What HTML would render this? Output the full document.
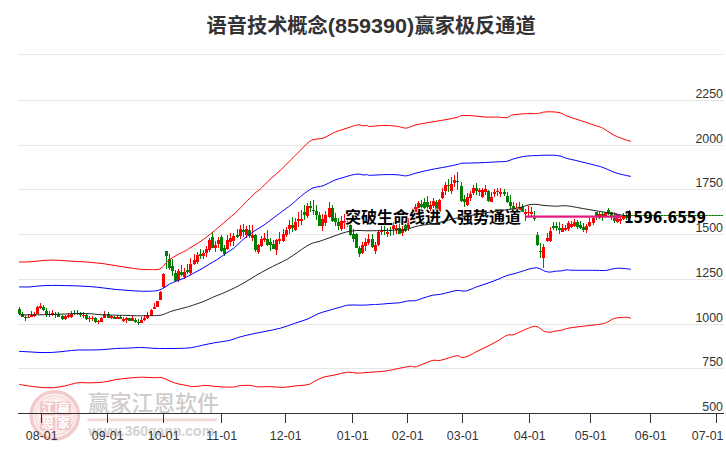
<!DOCTYPE html>
<html lang="zh"><head><meta charset="utf-8"><title>语音技术概念(859390)赢家极反通道</title>
<style>html,body{margin:0;padding:0;background:#fff}body{width:726px;height:450px;overflow:hidden}svg{display:block}.lab{font-family:"Liberation Sans","Noto Sans CJK SC",sans-serif;font-size:12.4px;fill:#333}.ttl{font-family:"Liberation Sans","Noto Sans CJK SC",sans-serif;font-size:20.2px;font-weight:bold;fill:#333}.ann{font-family:"Liberation Sans","Noto Sans CJK SC",sans-serif;font-size:16px;font-weight:bold;fill:#000;stroke:#fff;stroke-width:1.6px;paint-order:stroke;stroke-linejoin:round}.prc{font-family:"DejaVu Sans Condensed","DejaVu Sans","Liberation Sans",sans-serif;font-size:15.6px;font-weight:bold;fill:#000}.wm1{font-family:"Liberation Sans","Noto Sans CJK SC",sans-serif;font-size:21.8px;font-weight:500;fill:#d0cccc}.wm2{font-family:"Liberation Sans",sans-serif;font-size:14px;font-weight:bold;fill:#d2d2d2}.seal{font-family:"Liberation Sans","Noto Sans CJK SC",sans-serif;font-size:12.5px;font-weight:bold;fill:#fff}</style></head><body>
<svg width="726" height="450" viewBox="0 0 726 450">
<rect width="726" height="450" fill="#fff"/>
<g id="watermark">
<circle cx="54.8" cy="415.3" r="23.6" fill="#fdf6f6" stroke="#f2cbcb" stroke-width="3.6"/>
<circle cx="54.8" cy="415.3" r="19.6" fill="none" stroke="#f6dada" stroke-width="1.6"/>
<circle cx="54.8" cy="415.3" r="17" fill="none" stroke="#faeaea" stroke-width="2.5"/>
<rect x="40.2" y="401.6" width="15.2" height="13.8" fill="#f1c6c6"/>
<rect x="56.8" y="401.6" width="14" height="13.8" fill="#f1c6c6"/>
<rect x="40.2" y="417" width="15.2" height="13.2" fill="#f1c6c6"/>
<rect x="56.8" y="417" width="14" height="13.2" fill="#f1c6c6"/>
<g class="seal" text-anchor="middle"><text x="47.8" y="413.3">江</text><text x="63.8" y="413.3">赢</text>
<text x="47.8" y="428.2">恩</text><text x="63.8" y="428.2">家</text></g>
<text class="wm1" x="88" y="410.5">赢家江恩软件</text>
<rect x="87.5" y="418.4" width="129.5" height="3" fill="#f1dada"/>
<text class="wm2" x="88.6" y="435.7">www.360gann.com</text>
</g>
<g id="grid" fill="#e6e6e6">
<rect x="18" y="54" width="706" height="1"/>
<rect x="18" y="100" width="706" height="1"/>
<rect x="18" y="145" width="706" height="1"/>
<rect x="18" y="189" width="706" height="1"/>
<rect x="18" y="234" width="706" height="1"/>
<rect x="18" y="279" width="706" height="1"/>
<rect x="18" y="324" width="706" height="1"/>
<rect x="18" y="368" width="706" height="1"/>
</g>
<g id="candles">
<path d="M19.5,307.0V315.0" stroke="#008000" stroke-width="1"/><rect x="18.0" y="309.0" width="3" height="5.0" fill="#008000"/>
<path d="M22.5,312.0V317.0" stroke="#008000" stroke-width="1"/><rect x="21.0" y="314.0" width="3" height="3.0" fill="#008000"/>
<path d="M25.5,315.0V321.0" stroke="#008000" stroke-width="1"/><rect x="24.0" y="317.0" width="3" height="1.0" fill="#008000"/>
<path d="M28.5,314.0V318.0" stroke="#ff0000" stroke-width="1"/><rect x="27.0" y="317.0" width="3" height="1.0" fill="#ff0000"/>
<path d="M31.5,311.0V317.0" stroke="#ff0000" stroke-width="1"/><rect x="30.0" y="315.0" width="3" height="2.0" fill="#ff0000"/>
<path d="M34.5,312.0V317.0" stroke="#ff0000" stroke-width="1"/><rect x="33.0" y="314.0" width="3" height="2.0" fill="#ff0000"/>
<path d="M37.5,306.0V314.0" stroke="#ff0000" stroke-width="1"/><rect x="36.0" y="307.0" width="3" height="7.0" fill="#ff0000"/>
<path d="M40.5,303.0V309.0" stroke="#ff0000" stroke-width="1"/><rect x="39.0" y="306.0" width="3" height="2.0" fill="#ff0000"/>
<path d="M43.5,305.0V311.0" stroke="#008000" stroke-width="1"/><rect x="42.0" y="307.0" width="3" height="3.0" fill="#008000"/>
<path d="M46.5,308.0V317.0" stroke="#008000" stroke-width="1"/><rect x="45.0" y="311.0" width="3" height="4.0" fill="#008000"/>
<path d="M49.5,311.0V317.0" stroke="#008000" stroke-width="1"/><rect x="48.0" y="314.0" width="3" height="1.0" fill="#008000"/>
<path d="M52.5,310.0V316.0" stroke="#ff0000" stroke-width="1"/><rect x="51.0" y="313.0" width="3" height="2.0" fill="#ff0000"/>
<path d="M55.5,312.0V318.0" stroke="#008000" stroke-width="1"/><rect x="54.0" y="314.0" width="3" height="1.0" fill="#008000"/>
<path d="M58.5,312.0V317.0" stroke="#008000" stroke-width="1"/><rect x="57.0" y="314.0" width="3" height="3.0" fill="#008000"/>
<path d="M62.5,315.0V320.0" stroke="#008000" stroke-width="1"/><rect x="61.0" y="316.0" width="3" height="3.0" fill="#008000"/>
<path d="M65.5,315.0V320.0" stroke="#ff0000" stroke-width="1"/><rect x="64.0" y="316.0" width="3" height="3.0" fill="#ff0000"/>
<path d="M68.5,313.0V318.0" stroke="#ff0000" stroke-width="1"/><rect x="67.0" y="315.0" width="3" height="2.0" fill="#ff0000"/>
<path d="M71.5,311.0V318.0" stroke="#ff0000" stroke-width="1"/><rect x="70.0" y="314.0" width="3" height="3.0" fill="#ff0000"/>
<path d="M74.5,310.0V315.0" stroke="#008000" stroke-width="1"/><rect x="73.0" y="313.0" width="3" height="1.0" fill="#008000"/>
<path d="M77.5,310.0V315.0" stroke="#008000" stroke-width="1"/><rect x="76.0" y="313.0" width="3" height="1.0" fill="#008000"/>
<path d="M80.5,312.0V317.0" stroke="#008000" stroke-width="1"/><rect x="79.0" y="313.0" width="3" height="2.0" fill="#008000"/>
<path d="M83.5,312.0V318.0" stroke="#ff0000" stroke-width="1"/><rect x="82.0" y="315.0" width="3" height="1.0" fill="#ff0000"/>
<path d="M86.5,314.0V320.0" stroke="#008000" stroke-width="1"/><rect x="85.0" y="315.0" width="3" height="4.0" fill="#008000"/>
<path d="M89.5,316.0V322.0" stroke="#ff0000" stroke-width="1"/><rect x="88.0" y="318.0" width="3" height="1.0" fill="#ff0000"/>
<path d="M92.5,316.0V321.0" stroke="#ff0000" stroke-width="1"/><rect x="91.0" y="318.0" width="3" height="1.0" fill="#ff0000"/>
<path d="M95.5,317.0V323.0" stroke="#008000" stroke-width="1"/><rect x="94.0" y="318.0" width="3" height="4.0" fill="#008000"/>
<path d="M98.5,320.0V324.0" stroke="#ff0000" stroke-width="1"/><rect x="97.0" y="321.0" width="3" height="1.0" fill="#ff0000"/>
<path d="M101.5,317.0V322.0" stroke="#ff0000" stroke-width="1"/><rect x="100.0" y="318.0" width="3" height="4.0" fill="#ff0000"/>
<path d="M104.5,311.0V318.0" stroke="#ff0000" stroke-width="1"/><rect x="103.0" y="314.0" width="3" height="4.0" fill="#ff0000"/>
<path d="M108.5,312.0V318.0" stroke="#008000" stroke-width="1"/><rect x="107.0" y="314.0" width="3" height="4.0" fill="#008000"/>
<path d="M111.5,315.0V319.0" stroke="#ff0000" stroke-width="1"/><rect x="110.0" y="316.0" width="3" height="2.0" fill="#ff0000"/>
<path d="M114.5,316.0V319.0" stroke="#008000" stroke-width="1"/><rect x="113.0" y="317.0" width="3" height="2.0" fill="#008000"/>
<path d="M117.5,315.0V319.0" stroke="#ff0000" stroke-width="1"/><rect x="116.0" y="317.0" width="3" height="2.0" fill="#ff0000"/>
<path d="M120.5,315.0V319.0" stroke="#008000" stroke-width="1"/><rect x="119.0" y="317.0" width="3" height="2.0" fill="#008000"/>
<path d="M123.5,317.0V322.0" stroke="#ff0000" stroke-width="1"/><rect x="122.0" y="319.0" width="3" height="2.0" fill="#ff0000"/>
<path d="M126.5,317.0V323.0" stroke="#ff0000" stroke-width="1"/><rect x="125.0" y="318.0" width="3" height="2.0" fill="#ff0000"/>
<path d="M129.5,318.0V321.0" stroke="#008000" stroke-width="1"/><rect x="128.0" y="318.0" width="3" height="3.0" fill="#008000"/>
<path d="M132.5,316.0V321.0" stroke="#ff0000" stroke-width="1"/><rect x="131.0" y="318.0" width="3" height="3.0" fill="#ff0000"/>
<path d="M135.5,318.0V323.0" stroke="#008000" stroke-width="1"/><rect x="134.0" y="320.0" width="3" height="2.0" fill="#008000"/>
<path d="M138.5,319.0V325.0" stroke="#008000" stroke-width="1"/><rect x="137.0" y="322.0" width="3" height="1.0" fill="#008000"/>
<path d="M141.5,317.0V323.0" stroke="#ff0000" stroke-width="1"/><rect x="140.0" y="320.0" width="3" height="3.0" fill="#ff0000"/>
<path d="M144.5,315.0V321.0" stroke="#ff0000" stroke-width="1"/><rect x="143.0" y="318.0" width="3" height="2.0" fill="#ff0000"/>
<path d="M147.5,312.0V319.0" stroke="#ff0000" stroke-width="1"/><rect x="146.0" y="315.0" width="3" height="3.0" fill="#ff0000"/>
<path d="M151.5,309.0V316.0" stroke="#ff0000" stroke-width="1"/><rect x="150.0" y="310.0" width="3" height="5.0" fill="#ff0000"/>
<path d="M154.5,303.0V309.0" stroke="#ff0000" stroke-width="1"/><rect x="153.0" y="307.0" width="3" height="2.0" fill="#ff0000"/>
<path d="M157.5,301.0V307.0" stroke="#ff0000" stroke-width="1"/><rect x="156.0" y="301.0" width="3" height="6.0" fill="#ff0000"/>
<path d="M160.5,291.0V300.0" stroke="#ff0000" stroke-width="1"/><rect x="159.0" y="292.0" width="3" height="8.0" fill="#ff0000"/>
<path d="M163.5,273.0V288.0" stroke="#ff0000" stroke-width="1"/><rect x="162.0" y="274.0" width="3" height="13.0" fill="#ff0000"/>
<path d="M166.5,251.0V269.0" stroke="#008000" stroke-width="1"/><rect x="165.0" y="251.0" width="3" height="5.0" fill="#008000"/>
<path d="M169.5,254.0V270.0" stroke="#008000" stroke-width="1"/><rect x="168.0" y="259.0" width="3" height="9.0" fill="#008000"/>
<path d="M172.5,259.0V276.0" stroke="#008000" stroke-width="1"/><rect x="171.0" y="266.0" width="3" height="5.0" fill="#008000"/>
<path d="M175.5,270.0V282.0" stroke="#008000" stroke-width="1"/><rect x="174.0" y="273.0" width="3" height="8.0" fill="#008000"/>
<path d="M178.5,269.0V282.0" stroke="#ff0000" stroke-width="1"/><rect x="177.0" y="271.0" width="3" height="9.0" fill="#ff0000"/>
<path d="M181.5,265.0V276.0" stroke="#008000" stroke-width="1"/><rect x="180.0" y="272.0" width="3" height="3.0" fill="#008000"/>
<path d="M184.5,268.0V279.0" stroke="#ff0000" stroke-width="1"/><rect x="183.0" y="272.0" width="3" height="5.0" fill="#ff0000"/>
<path d="M187.5,264.0V274.0" stroke="#008000" stroke-width="1"/><rect x="186.0" y="270.0" width="3" height="2.0" fill="#008000"/>
<path d="M190.5,258.0V275.0" stroke="#ff0000" stroke-width="1"/><rect x="189.0" y="264.0" width="3" height="9.0" fill="#ff0000"/>
<path d="M194.5,254.0V265.0" stroke="#ff0000" stroke-width="1"/><rect x="193.0" y="260.0" width="3" height="4.0" fill="#ff0000"/>
<path d="M197.5,252.0V264.0" stroke="#ff0000" stroke-width="1"/><rect x="196.0" y="255.0" width="3" height="7.0" fill="#ff0000"/>
<path d="M200.5,249.0V259.0" stroke="#008000" stroke-width="1"/><rect x="199.0" y="254.0" width="3" height="2.0" fill="#008000"/>
<path d="M203.5,250.0V259.0" stroke="#ff0000" stroke-width="1"/><rect x="202.0" y="253.0" width="3" height="3.0" fill="#ff0000"/>
<path d="M206.5,246.0V257.0" stroke="#ff0000" stroke-width="1"/><rect x="205.0" y="249.0" width="3" height="4.0" fill="#ff0000"/>
<path d="M209.5,238.0V252.0" stroke="#ff0000" stroke-width="1"/><rect x="208.0" y="240.0" width="3" height="10.0" fill="#ff0000"/>
<path d="M212.5,232.0V248.0" stroke="#008000" stroke-width="1"/><rect x="211.0" y="237.0" width="3" height="11.0" fill="#008000"/>
<path d="M215.5,241.0V252.0" stroke="#ff0000" stroke-width="1"/><rect x="214.0" y="245.0" width="3" height="3.0" fill="#ff0000"/>
<path d="M218.5,237.0V248.0" stroke="#ff0000" stroke-width="1"/><rect x="217.0" y="240.0" width="3" height="4.0" fill="#ff0000"/>
<path d="M221.5,235.0V252.0" stroke="#008000" stroke-width="1"/><rect x="220.0" y="237.0" width="3" height="14.0" fill="#008000"/>
<path d="M224.5,245.0V256.0" stroke="#008000" stroke-width="1"/><rect x="223.0" y="248.0" width="3" height="6.0" fill="#008000"/>
<path d="M227.5,235.0V250.0" stroke="#ff0000" stroke-width="1"/><rect x="226.0" y="240.0" width="3" height="9.0" fill="#ff0000"/>
<path d="M230.5,233.0V246.0" stroke="#ff0000" stroke-width="1"/><rect x="229.0" y="238.0" width="3" height="4.0" fill="#ff0000"/>
<path d="M233.5,233.0V246.0" stroke="#ff0000" stroke-width="1"/><rect x="232.0" y="236.0" width="3" height="5.0" fill="#ff0000"/>
<path d="M237.5,229.0V238.0" stroke="#008000" stroke-width="1"/><rect x="236.0" y="235.0" width="3" height="2.0" fill="#008000"/>
<path d="M240.5,225.0V239.0" stroke="#ff0000" stroke-width="1"/><rect x="239.0" y="229.0" width="3" height="7.0" fill="#ff0000"/>
<path d="M243.5,224.0V237.0" stroke="#008000" stroke-width="1"/><rect x="242.0" y="230.0" width="3" height="2.0" fill="#008000"/>
<path d="M246.5,226.0V238.0" stroke="#ff0000" stroke-width="1"/><rect x="245.0" y="229.0" width="3" height="6.0" fill="#ff0000"/>
<path d="M249.5,225.0V238.0" stroke="#008000" stroke-width="1"/><rect x="248.0" y="230.0" width="3" height="6.0" fill="#008000"/>
<path d="M252.5,225.0V241.0" stroke="#ff0000" stroke-width="1"/><rect x="251.0" y="235.0" width="3" height="3.0" fill="#ff0000"/>
<path d="M255.5,234.0V252.0" stroke="#008000" stroke-width="1"/><rect x="254.0" y="235.0" width="3" height="15.0" fill="#008000"/>
<path d="M258.5,244.0V254.0" stroke="#ff0000" stroke-width="1"/><rect x="257.0" y="245.0" width="3" height="7.0" fill="#ff0000"/>
<path d="M261.5,236.0V247.0" stroke="#ff0000" stroke-width="1"/><rect x="260.0" y="239.0" width="3" height="7.0" fill="#ff0000"/>
<path d="M264.5,233.0V242.0" stroke="#ff0000" stroke-width="1"/><rect x="263.0" y="238.0" width="3" height="2.0" fill="#ff0000"/>
<path d="M267.5,230.0V246.0" stroke="#008000" stroke-width="1"/><rect x="266.0" y="239.0" width="3" height="6.0" fill="#008000"/>
<path d="M270.5,238.0V251.0" stroke="#008000" stroke-width="1"/><rect x="269.0" y="242.0" width="3" height="3.0" fill="#008000"/>
<path d="M273.5,240.0V249.0" stroke="#008000" stroke-width="1"/><rect x="272.0" y="244.0" width="3" height="5.0" fill="#008000"/>
<path d="M276.5,239.0V255.0" stroke="#ff0000" stroke-width="1"/><rect x="275.0" y="240.0" width="3" height="10.0" fill="#ff0000"/>
<path d="M279.5,232.0V244.0" stroke="#ff0000" stroke-width="1"/><rect x="278.0" y="239.0" width="3" height="2.0" fill="#ff0000"/>
<path d="M283.5,229.0V242.0" stroke="#ff0000" stroke-width="1"/><rect x="282.0" y="234.0" width="3" height="7.0" fill="#ff0000"/>
<path d="M286.5,227.0V237.0" stroke="#ff0000" stroke-width="1"/><rect x="285.0" y="230.0" width="3" height="5.0" fill="#ff0000"/>
<path d="M289.5,220.0V234.0" stroke="#ff0000" stroke-width="1"/><rect x="288.0" y="225.0" width="3" height="4.0" fill="#ff0000"/>
<path d="M292.5,217.0V232.0" stroke="#008000" stroke-width="1"/><rect x="291.0" y="225.0" width="3" height="3.0" fill="#008000"/>
<path d="M295.5,218.0V231.0" stroke="#ff0000" stroke-width="1"/><rect x="294.0" y="222.0" width="3" height="8.0" fill="#ff0000"/>
<path d="M298.5,212.0V227.0" stroke="#ff0000" stroke-width="1"/><rect x="297.0" y="219.0" width="3" height="2.0" fill="#ff0000"/>
<path d="M301.5,210.0V225.0" stroke="#ff0000" stroke-width="1"/><rect x="300.0" y="219.0" width="3" height="2.0" fill="#ff0000"/>
<path d="M304.5,205.0V220.0" stroke="#008000" stroke-width="1"/><rect x="303.0" y="212.0" width="3" height="3.0" fill="#008000"/>
<path d="M307.5,203.0V218.0" stroke="#ff0000" stroke-width="1"/><rect x="306.0" y="206.0" width="3" height="10.0" fill="#ff0000"/>
<path d="M310.5,201.0V212.0" stroke="#008000" stroke-width="1"/><rect x="309.0" y="206.0" width="3" height="2.0" fill="#008000"/>
<path d="M313.5,200.0V215.0" stroke="#008000" stroke-width="1"/><rect x="312.0" y="210.0" width="3" height="1.0" fill="#008000"/>
<path d="M316.5,205.0V220.0" stroke="#008000" stroke-width="1"/><rect x="315.0" y="211.0" width="3" height="4.0" fill="#008000"/>
<path d="M319.5,212.0V226.0" stroke="#008000" stroke-width="1"/><rect x="318.0" y="215.0" width="3" height="11.0" fill="#008000"/>
<path d="M322.5,214.0V231.0" stroke="#ff0000" stroke-width="1"/><rect x="321.0" y="219.0" width="3" height="7.0" fill="#ff0000"/>
<path d="M325.5,211.0V226.0" stroke="#ff0000" stroke-width="1"/><rect x="324.0" y="215.0" width="3" height="8.0" fill="#ff0000"/>
<path d="M329.5,202.0V218.0" stroke="#ff0000" stroke-width="1"/><rect x="328.0" y="208.0" width="3" height="9.0" fill="#ff0000"/>
<path d="M332.5,205.0V222.0" stroke="#008000" stroke-width="1"/><rect x="331.0" y="208.0" width="3" height="13.0" fill="#008000"/>
<path d="M335.5,213.0V226.0" stroke="#008000" stroke-width="1"/><rect x="334.0" y="218.0" width="3" height="4.0" fill="#008000"/>
<path d="M338.5,218.0V230.0" stroke="#008000" stroke-width="1"/><rect x="337.0" y="222.0" width="3" height="4.0" fill="#008000"/>
<path d="M341.5,216.0V231.0" stroke="#ff0000" stroke-width="1"/><rect x="340.0" y="221.0" width="3" height="8.0" fill="#ff0000"/>
<path d="M344.5,214.0V229.0" stroke="#ff0000" stroke-width="1"/><rect x="343.0" y="221.0" width="3" height="2.0" fill="#ff0000"/>
<path d="M347.5,218.0V227.0" stroke="#008000" stroke-width="1"/><rect x="346.0" y="222.0" width="3" height="3.0" fill="#008000"/>
<path d="M350.5,224.0V236.0" stroke="#008000" stroke-width="1"/><rect x="349.0" y="225.0" width="3" height="10.0" fill="#008000"/>
<path d="M353.5,229.0V242.0" stroke="#008000" stroke-width="1"/><rect x="352.0" y="234.0" width="3" height="5.0" fill="#008000"/>
<path d="M356.5,233.0V248.0" stroke="#008000" stroke-width="1"/><rect x="355.0" y="234.0" width="3" height="14.0" fill="#008000"/>
<path d="M359.5,246.0V257.0" stroke="#008000" stroke-width="1"/><rect x="358.0" y="248.0" width="3" height="6.0" fill="#008000"/>
<path d="M362.5,242.0V254.0" stroke="#ff0000" stroke-width="1"/><rect x="361.0" y="245.0" width="3" height="8.0" fill="#ff0000"/>
<path d="M365.5,238.0V251.0" stroke="#ff0000" stroke-width="1"/><rect x="364.0" y="242.0" width="3" height="4.0" fill="#ff0000"/>
<path d="M368.5,234.0V245.0" stroke="#ff0000" stroke-width="1"/><rect x="367.0" y="239.0" width="3" height="4.0" fill="#ff0000"/>
<path d="M372.5,234.0V248.0" stroke="#008000" stroke-width="1"/><rect x="371.0" y="239.0" width="3" height="8.0" fill="#008000"/>
<path d="M375.5,242.0V254.0" stroke="#ff0000" stroke-width="1"/><rect x="374.0" y="245.0" width="3" height="6.0" fill="#ff0000"/>
<path d="M378.5,231.0V246.0" stroke="#ff0000" stroke-width="1"/><rect x="377.0" y="232.0" width="3" height="13.0" fill="#ff0000"/>
<path d="M381.5,224.0V235.0" stroke="#ff0000" stroke-width="1"/><rect x="380.0" y="230.0" width="3" height="2.0" fill="#ff0000"/>
<path d="M384.5,224.0V235.0" stroke="#008000" stroke-width="1"/><rect x="383.0" y="230.0" width="3" height="1.0" fill="#008000"/>
<path d="M387.5,228.0V237.0" stroke="#ff0000" stroke-width="1"/><rect x="386.0" y="232.0" width="3" height="2.0" fill="#ff0000"/>
<path d="M390.5,227.0V236.0" stroke="#008000" stroke-width="1"/><rect x="389.0" y="230.0" width="3" height="1.0" fill="#008000"/>
<path d="M393.5,222.0V235.0" stroke="#ff0000" stroke-width="1"/><rect x="392.0" y="225.0" width="3" height="4.0" fill="#ff0000"/>
<path d="M396.5,223.0V234.0" stroke="#ff0000" stroke-width="1"/><rect x="395.0" y="228.0" width="3" height="2.0" fill="#ff0000"/>
<path d="M399.5,222.0V234.0" stroke="#008000" stroke-width="1"/><rect x="398.0" y="228.0" width="3" height="6.0" fill="#008000"/>
<path d="M402.5,226.0V236.0" stroke="#ff0000" stroke-width="1"/><rect x="401.0" y="229.0" width="3" height="4.0" fill="#ff0000"/>
<path d="M405.5,222.0V232.0" stroke="#008000" stroke-width="1"/><rect x="404.0" y="225.0" width="3" height="6.0" fill="#008000"/>
<path d="M408.5,218.0V231.0" stroke="#ff0000" stroke-width="1"/><rect x="407.0" y="222.0" width="3" height="6.0" fill="#ff0000"/>
<path d="M412.5,208.0V222.0" stroke="#ff0000" stroke-width="1"/><rect x="411.0" y="212.0" width="3" height="8.0" fill="#ff0000"/>
<path d="M415.5,204.0V217.0" stroke="#ff0000" stroke-width="1"/><rect x="414.0" y="207.0" width="3" height="8.0" fill="#ff0000"/>
<path d="M418.5,201.0V214.0" stroke="#ff0000" stroke-width="1"/><rect x="417.0" y="203.0" width="3" height="9.0" fill="#ff0000"/>
<path d="M421.5,200.0V211.0" stroke="#008000" stroke-width="1"/><rect x="420.0" y="204.0" width="3" height="3.0" fill="#008000"/>
<path d="M424.5,198.0V209.0" stroke="#008000" stroke-width="1"/><rect x="423.0" y="202.0" width="3" height="6.0" fill="#008000"/>
<path d="M427.5,196.0V209.0" stroke="#008000" stroke-width="1"/><rect x="426.0" y="202.0" width="3" height="5.0" fill="#008000"/>
<path d="M430.5,201.0V212.0" stroke="#ff0000" stroke-width="1"/><rect x="429.0" y="205.0" width="3" height="4.0" fill="#ff0000"/>
<path d="M433.5,198.0V208.0" stroke="#ff0000" stroke-width="1"/><rect x="432.0" y="201.0" width="3" height="5.0" fill="#ff0000"/>
<path d="M436.5,200.0V211.0" stroke="#008000" stroke-width="1"/><rect x="435.0" y="202.0" width="3" height="9.0" fill="#008000"/>
<path d="M439.5,199.0V212.0" stroke="#ff0000" stroke-width="1"/><rect x="438.0" y="200.0" width="3" height="12.0" fill="#ff0000"/>
<path d="M442.5,188.0V199.0" stroke="#ff0000" stroke-width="1"/><rect x="441.0" y="192.0" width="3" height="6.0" fill="#ff0000"/>
<path d="M445.5,182.0V195.0" stroke="#ff0000" stroke-width="1"/><rect x="444.0" y="185.0" width="3" height="6.0" fill="#ff0000"/>
<path d="M448.5,179.0V192.0" stroke="#008000" stroke-width="1"/><rect x="447.0" y="185.0" width="3" height="1.0" fill="#008000"/>
<path d="M451.5,177.0V194.0" stroke="#ff0000" stroke-width="1"/><rect x="450.0" y="184.0" width="3" height="7.0" fill="#ff0000"/>
<path d="M454.5,175.0V187.0" stroke="#ff0000" stroke-width="1"/><rect x="453.0" y="180.0" width="3" height="3.0" fill="#ff0000"/>
<path d="M457.5,172.0V190.0" stroke="#008000" stroke-width="1"/><rect x="456.0" y="181.0" width="3" height="1.0" fill="#008000"/>
<path d="M461.5,182.0V202.0" stroke="#008000" stroke-width="1"/><rect x="460.0" y="186.0" width="3" height="15.0" fill="#008000"/>
<path d="M464.5,195.0V207.0" stroke="#008000" stroke-width="1"/><rect x="463.0" y="199.0" width="3" height="3.0" fill="#008000"/>
<path d="M467.5,193.0V206.0" stroke="#ff0000" stroke-width="1"/><rect x="466.0" y="197.0" width="3" height="8.0" fill="#ff0000"/>
<path d="M470.5,191.0V201.0" stroke="#ff0000" stroke-width="1"/><rect x="469.0" y="194.0" width="3" height="4.0" fill="#ff0000"/>
<path d="M473.5,185.0V195.0" stroke="#ff0000" stroke-width="1"/><rect x="472.0" y="188.0" width="3" height="5.0" fill="#ff0000"/>
<path d="M476.5,183.0V195.0" stroke="#008000" stroke-width="1"/><rect x="475.0" y="188.0" width="3" height="3.0" fill="#008000"/>
<path d="M479.5,188.0V196.0" stroke="#ff0000" stroke-width="1"/><rect x="478.0" y="190.0" width="3" height="2.0" fill="#ff0000"/>
<path d="M482.5,188.0V198.0" stroke="#ff0000" stroke-width="1"/><rect x="481.0" y="190.0" width="3" height="7.0" fill="#ff0000"/>
<path d="M485.5,185.0V195.0" stroke="#ff0000" stroke-width="1"/><rect x="484.0" y="189.0" width="3" height="3.0" fill="#ff0000"/>
<path d="M488.5,190.0V202.0" stroke="#008000" stroke-width="1"/><rect x="487.0" y="191.0" width="3" height="10.0" fill="#008000"/>
<path d="M491.5,192.0V202.0" stroke="#ff0000" stroke-width="1"/><rect x="490.0" y="197.0" width="3" height="5.0" fill="#ff0000"/>
<path d="M494.5,189.0V197.0" stroke="#ff0000" stroke-width="1"/><rect x="493.0" y="192.0" width="3" height="2.0" fill="#ff0000"/>
<path d="M497.5,188.0V196.0" stroke="#ff0000" stroke-width="1"/><rect x="496.0" y="191.0" width="3" height="1.0" fill="#ff0000"/>
<path d="M500.5,188.0V197.0" stroke="#ff0000" stroke-width="1"/><rect x="499.0" y="192.0" width="3" height="2.0" fill="#ff0000"/>
<path d="M504.5,189.0V196.0" stroke="#008000" stroke-width="1"/><rect x="503.0" y="192.0" width="3" height="2.0" fill="#008000"/>
<path d="M507.5,192.0V203.0" stroke="#008000" stroke-width="1"/><rect x="506.0" y="196.0" width="3" height="6.0" fill="#008000"/>
<path d="M510.5,195.0V211.0" stroke="#008000" stroke-width="1"/><rect x="509.0" y="202.0" width="3" height="4.0" fill="#008000"/>
<path d="M513.5,202.0V212.0" stroke="#008000" stroke-width="1"/><rect x="512.0" y="206.0" width="3" height="6.0" fill="#008000"/>
<path d="M516.5,203.0V212.0" stroke="#ff0000" stroke-width="1"/><rect x="515.0" y="208.0" width="3" height="4.0" fill="#ff0000"/>
<path d="M519.5,202.0V212.0" stroke="#ff0000" stroke-width="1"/><rect x="518.0" y="207.0" width="3" height="4.0" fill="#ff0000"/>
<path d="M522.5,204.0V212.0" stroke="#008000" stroke-width="1"/><rect x="521.0" y="207.0" width="3" height="5.0" fill="#008000"/>
<path d="M525.5,209.0V221.0" stroke="#ff0000" stroke-width="1"/><rect x="524.0" y="212.0" width="3" height="2.0" fill="#ff0000"/>
<path d="M528.5,206.0V216.0" stroke="#ff0000" stroke-width="1"/><rect x="527.0" y="212.0" width="3" height="1.0" fill="#ff0000"/>
<path d="M531.5,207.0V216.0" stroke="#ff0000" stroke-width="1"/><rect x="530.0" y="212.0" width="3" height="2.0" fill="#ff0000"/>
<path d="M534.5,211.0V221.0" stroke="#008000" stroke-width="1"/><rect x="533.0" y="218.0" width="3" height="1.0" fill="#008000"/>
<path d="M537.5,232.0V246.0" stroke="#008000" stroke-width="1"/><rect x="536.0" y="235.0" width="3" height="10.0" fill="#008000"/>
<path d="M540.5,243.0V258.0" stroke="#008000" stroke-width="1"/><rect x="539.0" y="251.0" width="3" height="1.0" fill="#008000"/>
<path d="M543.5,244.0V268.0" stroke="#ff0000" stroke-width="1"/><rect x="542.0" y="247.0" width="3" height="11.0" fill="#ff0000"/>
<path d="M547.5,233.0V242.0" stroke="#ff0000" stroke-width="1"/><rect x="546.0" y="238.0" width="3" height="3.0" fill="#ff0000"/>
<path d="M550.5,227.0V242.0" stroke="#ff0000" stroke-width="1"/><rect x="549.0" y="231.0" width="3" height="10.0" fill="#ff0000"/>
<path d="M553.5,222.0V230.0" stroke="#008000" stroke-width="1"/><rect x="552.0" y="226.0" width="3" height="2.0" fill="#008000"/>
<path d="M556.5,222.0V231.0" stroke="#008000" stroke-width="1"/><rect x="555.0" y="226.0" width="3" height="2.0" fill="#008000"/>
<path d="M559.5,222.0V234.0" stroke="#008000" stroke-width="1"/><rect x="558.0" y="228.0" width="3" height="2.0" fill="#008000"/>
<path d="M562.5,224.0V232.0" stroke="#ff0000" stroke-width="1"/><rect x="561.0" y="228.0" width="3" height="4.0" fill="#ff0000"/>
<path d="M565.5,225.0V231.0" stroke="#ff0000" stroke-width="1"/><rect x="564.0" y="228.0" width="3" height="2.0" fill="#ff0000"/>
<path d="M568.5,221.0V231.0" stroke="#ff0000" stroke-width="1"/><rect x="567.0" y="223.0" width="3" height="6.0" fill="#ff0000"/>
<path d="M571.5,221.0V228.0" stroke="#ff0000" stroke-width="1"/><rect x="570.0" y="224.0" width="3" height="3.0" fill="#ff0000"/>
<path d="M574.5,219.0V227.0" stroke="#ff0000" stroke-width="1"/><rect x="573.0" y="222.0" width="3" height="4.0" fill="#ff0000"/>
<path d="M577.5,220.0V229.0" stroke="#008000" stroke-width="1"/><rect x="576.0" y="222.0" width="3" height="5.0" fill="#008000"/>
<path d="M580.5,221.0V229.0" stroke="#008000" stroke-width="1"/><rect x="579.0" y="225.0" width="3" height="3.0" fill="#008000"/>
<path d="M583.5,223.0V232.0" stroke="#008000" stroke-width="1"/><rect x="582.0" y="227.0" width="3" height="3.0" fill="#008000"/>
<path d="M586.5,224.0V233.0" stroke="#ff0000" stroke-width="1"/><rect x="585.0" y="226.0" width="3" height="4.0" fill="#ff0000"/>
<path d="M589.5,218.0V227.0" stroke="#ff0000" stroke-width="1"/><rect x="588.0" y="222.0" width="3" height="4.0" fill="#ff0000"/>
<path d="M593.5,217.0V225.0" stroke="#ff0000" stroke-width="1"/><rect x="592.0" y="218.0" width="3" height="5.0" fill="#ff0000"/>
<path d="M596.5,212.0V220.0" stroke="#008000" stroke-width="1"/><rect x="595.0" y="212.0" width="3" height="5.0" fill="#008000"/>
<path d="M599.5,212.0V219.0" stroke="#ff0000" stroke-width="1"/><rect x="598.0" y="214.0" width="3" height="4.0" fill="#ff0000"/>
<path d="M602.5,212.0V221.0" stroke="#008000" stroke-width="1"/><rect x="601.0" y="214.0" width="3" height="2.0" fill="#008000"/>
<path d="M605.5,212.0V217.0" stroke="#ff0000" stroke-width="1"/><rect x="604.0" y="213.0" width="3" height="3.0" fill="#ff0000"/>
<path d="M608.5,208.0V215.0" stroke="#008000" stroke-width="1"/><rect x="607.0" y="210.0" width="3" height="4.0" fill="#008000"/>
<path d="M611.5,212.0V220.0" stroke="#008000" stroke-width="1"/><rect x="610.0" y="212.0" width="3" height="4.0" fill="#008000"/>
<path d="M614.5,214.0V223.0" stroke="#008000" stroke-width="1"/><rect x="613.0" y="218.0" width="3" height="3.0" fill="#008000"/>
<path d="M617.5,217.0V223.0" stroke="#ff0000" stroke-width="1"/><rect x="616.0" y="219.0" width="3" height="3.0" fill="#ff0000"/>
<path d="M620.5,217.0V224.0" stroke="#ff0000" stroke-width="1"/><rect x="619.0" y="219.0" width="3" height="2.0" fill="#ff0000"/>
<path d="M623.5,213.0V220.0" stroke="#ff0000" stroke-width="1"/><rect x="622.0" y="216.0" width="3" height="3.0" fill="#ff0000"/>
<path d="M626.5,214.0V220.0" stroke="#008000" stroke-width="1"/><rect x="625.0" y="215.0" width="3" height="3.0" fill="#008000"/>
<path d="M629.5,210.0V220.0" stroke="#ff0000" stroke-width="1"/><rect x="628.0" y="212.0" width="3" height="6.0" fill="#ff0000"/>
</g>
<g id="annot">
<rect x="526" y="215.5" width="92" height="2.2" fill="#e6157d"/>
<path d="M622.6,216.4 L613.2,211.8 L616,216.4 L613.2,221 Z" fill="#e6157d"/>
<text class="ann" x="345" y="222.5">突破生命线进入强势通道</text>
<path d="M622,215.5H723" stroke="#008000" stroke-width="1" opacity="0.65"/><path d="M622,215.5H723" stroke="#008000" stroke-width="1" stroke-dasharray="2,1"/>
<text class="prc" x="624" y="223.2" textLength="82" lengthAdjust="spacingAndGlyphs">1596.6559</text>
</g>
<g id="curves" fill="none" stroke-width="1" stroke-linejoin="round" stroke-linecap="round">
<path d="M19.5,262.0 C21.2,262.0 26.6,262.0 30.0,261.8 C33.4,261.6 36.3,261.1 40.1,260.8 C43.9,260.5 48.4,260.0 52.6,260.0 C56.8,260.0 61.0,260.6 65.2,260.8 C69.4,261.1 73.5,261.2 77.7,261.5 C81.9,261.8 86.1,261.9 90.3,262.3 C94.5,262.7 98.7,263.1 102.9,263.6 C107.1,264.2 111.2,264.9 115.4,265.6 C119.6,266.3 123.8,267.0 128.0,267.6 C132.2,268.2 136.8,269.0 140.5,269.3 C144.2,269.6 147.9,269.6 150.5,269.6 C153.1,269.7 154.4,269.7 156.0,269.6 C157.6,269.5 158.6,269.5 159.9,268.9 C161.2,268.3 162.4,267.1 163.6,265.9 C164.8,264.7 165.8,262.9 167.2,261.6 C168.6,260.3 170.1,259.2 172.1,257.9 C174.1,256.6 176.9,255.0 179.4,253.7 C181.9,252.4 185.2,250.9 186.8,250.0 C188.5,249.1 187.5,249.4 189.3,248.3 C191.1,247.2 194.9,245.1 197.7,243.3 C200.5,241.5 203.2,239.6 206.0,237.5 C208.8,235.4 211.9,232.8 214.3,230.8 C216.7,228.9 216.7,228.8 220.2,225.8 C223.7,222.8 231.0,216.8 235.2,213.0 C239.4,209.2 241.8,206.2 245.2,202.9 C248.5,199.6 252.8,195.2 255.3,192.9 C257.8,190.6 257.8,191.4 260.3,189.1 C262.8,186.8 267.0,182.2 270.3,179.1 C273.6,176.0 277.0,173.5 280.4,170.3 C283.8,167.2 287.0,163.5 290.4,160.2 C293.8,156.8 297.6,153.1 300.5,150.2 C303.4,147.3 305.9,144.4 308.0,142.7 C310.1,140.9 311.3,140.3 313.0,139.7 C314.7,139.1 316.3,139.2 318.0,138.9 C319.7,138.7 321.1,138.8 323.0,138.2 C324.9,137.6 327.2,136.1 329.3,135.1 C331.4,134.1 333.3,132.8 335.6,131.9 C337.9,131.0 340.6,130.2 343.1,129.4 C345.6,128.6 348.2,127.7 350.7,126.9 C353.2,126.1 356.1,125.0 358.2,124.8 C360.3,124.6 361.7,125.8 363.2,125.9 C364.7,126.0 365.9,125.3 367.0,125.4 C368.1,125.5 367.0,126.4 370.0,126.4 C373.0,126.4 380.5,125.4 385.1,125.4 C389.7,125.4 394.1,126.0 397.7,126.4 C401.2,126.9 403.5,128.3 406.4,128.1 C409.3,127.9 412.0,125.9 415.2,125.1 C418.4,124.3 421.9,123.7 425.3,123.1 C428.7,122.5 431.5,122.0 435.3,121.4 C439.1,120.8 444.1,120.0 447.9,119.3 C451.7,118.6 455.6,117.7 457.9,117.1 C460.2,116.5 459.2,115.8 461.7,115.6 C464.2,115.4 469.0,115.5 473.0,115.8 C477.0,116.0 481.3,116.9 485.5,117.1 C489.7,117.3 494.6,117.0 498.1,117.1 C501.7,117.2 504.5,117.9 506.8,117.6 C509.1,117.3 509.7,115.7 511.9,115.1 C514.1,114.5 517.4,114.3 520.0,114.1 C522.6,113.8 524.6,113.7 527.5,113.6 C530.4,113.5 534.9,113.8 537.6,113.6 C540.3,113.3 541.5,112.4 543.8,112.1 C546.1,111.8 548.7,111.7 551.4,111.8 C554.1,111.9 557.7,112.1 560.2,112.8 C562.7,113.5 563.9,114.8 566.4,115.8 C568.9,116.8 572.1,117.8 575.2,118.8 C578.4,119.8 581.9,121.0 585.3,122.1 C588.6,123.2 592.6,124.7 595.3,125.6 C598.0,126.5 599.5,126.6 601.6,127.6 C603.7,128.6 605.8,130.1 607.9,131.4 C610.0,132.7 612.0,134.1 614.1,135.2 C616.2,136.3 618.3,137.1 620.4,137.9 C622.5,138.7 625.0,139.6 626.7,140.2 C628.4,140.8 629.8,141.0 630.4,141.2" stroke="#ff0000"/>
<path d="M19.5,384.5 C20.9,384.7 24.2,385.3 27.6,385.8 C31.0,386.3 35.9,387.0 40.1,387.3 C44.3,387.6 48.4,388.1 52.6,387.8 C56.8,387.6 61.0,386.6 65.2,385.8 C69.4,385.0 73.5,383.3 77.7,382.8 C81.9,382.3 86.1,382.9 90.3,382.8 C94.5,382.7 98.7,382.7 102.9,382.2 C107.1,381.7 111.2,380.4 115.4,379.7 C119.6,379.0 123.8,378.6 128.0,378.2 C132.2,377.8 136.3,377.3 140.5,377.2 C144.7,377.1 149.4,377.6 153.0,377.7 C156.6,377.8 159.3,377.3 161.8,377.7 C164.3,378.1 165.8,379.3 168.1,380.2 C170.4,381.1 173.1,382.5 175.6,383.3 C178.1,384.1 180.7,384.3 183.2,384.8 C185.7,385.3 188.1,386.0 190.4,386.3 C192.7,386.6 194.6,386.5 197.0,386.4 C199.4,386.2 201.7,385.4 205.1,385.4 C208.5,385.4 213.0,386.3 217.6,386.6 C222.2,386.9 228.9,387.3 232.7,387.1 C236.5,386.9 237.3,385.9 240.2,385.6 C243.1,385.3 247.3,385.2 250.2,385.4 C253.1,385.6 254.5,386.7 257.8,386.9 C261.2,387.1 266.1,386.5 270.3,386.6 C274.5,386.7 278.7,387.5 282.9,387.4 C287.1,387.3 291.2,386.4 295.4,385.9 C299.6,385.4 304.6,385.4 308.0,384.6 C311.4,383.8 313.0,382.1 315.5,380.9 C318.0,379.7 320.1,378.2 323.0,377.3 C325.9,376.4 330.2,375.9 333.1,375.3 C336.0,374.7 338.1,374.1 340.6,373.6 C343.1,373.1 345.4,372.2 348.1,372.1 C350.8,372.0 354.0,373.0 356.9,373.1 C359.8,373.2 363.2,372.8 365.7,372.6 C368.2,372.4 369.6,372.3 372.0,372.1 C374.4,371.9 377.0,371.9 380.0,371.6 C383.0,371.3 387.2,370.8 390.0,370.3 C392.8,369.8 394.7,369.3 397.0,368.8 C399.3,368.3 401.7,367.8 403.9,367.4 C406.1,367.0 408.3,366.3 410.2,366.2 C412.1,366.1 413.1,367.2 415.2,366.9 C417.3,366.6 419.8,365.3 422.7,364.2 C425.6,363.1 429.9,361.0 432.8,360.4 C435.7,359.8 437.4,360.9 440.3,360.4 C443.2,359.9 447.4,358.2 450.3,357.4 C453.2,356.6 456.0,355.7 457.9,355.7 C459.8,355.7 459.9,357.3 461.6,357.4 C463.3,357.5 465.2,357.3 467.9,356.2 C470.6,355.1 474.6,352.6 478.0,350.9 C481.4,349.2 484.7,347.8 488.0,346.1 C491.3,344.4 494.9,342.6 498.0,340.8 C501.1,339.0 504.3,336.3 506.8,335.3 C509.3,334.3 510.8,335.4 513.1,334.8 C515.4,334.2 518.1,332.7 520.6,331.6 C523.1,330.5 525.9,329.2 528.2,328.3 C530.5,327.4 532.5,326.4 534.4,326.3 C536.3,326.2 537.8,327.0 539.4,327.8 C541.0,328.6 542.4,330.4 543.7,331.1 C545.0,331.8 545.9,331.6 547.0,331.8 C548.1,332.0 548.8,332.4 550.1,332.3 C551.5,332.2 553.2,331.4 555.1,331.1 C557.0,330.8 559.3,330.8 561.4,330.3 C563.5,329.8 564.6,328.9 567.7,328.3 C570.8,327.7 576.0,327.1 580.2,326.6 C584.4,326.1 589.4,325.5 592.8,325.1 C596.1,324.7 598.0,324.7 600.3,324.3 C602.6,323.9 604.5,323.4 606.6,322.5 C608.7,321.6 610.9,319.8 612.8,319.0 C614.7,318.2 615.6,318.1 617.9,317.8 C620.2,317.5 624.5,317.2 626.6,317.3 C628.7,317.4 629.8,318.1 630.4,318.3" stroke="#ff0000"/>
<path d="M19.5,286.9 C21.2,286.9 26.6,287.1 30.0,286.9 C33.4,286.7 36.2,286.1 40.0,285.9 C43.8,285.6 48.4,285.4 52.6,285.4 C56.8,285.3 61.0,285.5 65.2,285.6 C69.4,285.7 73.5,285.7 77.7,285.9 C81.9,286.1 86.1,286.3 90.3,286.6 C94.5,286.9 98.7,287.4 102.9,287.9 C107.1,288.4 111.2,289.0 115.4,289.4 C119.6,289.8 123.8,290.1 128.0,290.4 C132.2,290.7 136.8,291.1 140.5,291.2 C144.2,291.3 147.9,291.3 150.5,291.2 C153.1,291.1 154.0,291.2 156.0,290.8 C158.0,290.4 160.5,289.8 162.7,288.7 C164.9,287.6 167.1,285.4 169.3,284.2 C171.5,283.0 173.5,282.3 176.0,281.3 C178.5,280.3 181.5,279.3 184.3,278.0 C187.1,276.7 189.9,275.2 192.7,273.7 C195.5,272.2 198.2,270.8 201.0,269.2 C203.8,267.6 206.5,265.9 209.3,264.2 C212.1,262.5 214.9,261.0 217.7,259.2 C220.5,257.4 223.2,255.2 226.0,253.3 C228.8,251.4 231.3,250.2 234.3,247.8 C237.3,245.4 240.7,241.4 244.0,238.7 C247.3,235.9 250.7,233.6 254.0,231.3 C257.3,229.0 260.7,227.3 264.0,225.0 C267.3,222.7 270.7,220.0 274.0,217.5 C277.3,215.0 281.3,212.0 284.0,210.0 C286.7,208.0 287.6,207.6 290.4,205.4 C293.1,203.2 297.6,199.0 300.5,196.6 C303.4,194.2 305.9,192.3 308.0,190.9 C310.1,189.5 311.3,188.6 313.0,187.9 C314.7,187.2 316.3,187.2 318.0,186.8 C319.7,186.5 321.1,186.5 323.0,185.8 C324.9,185.1 327.2,183.8 329.3,182.8 C331.4,181.8 333.3,180.7 335.6,179.8 C337.9,178.9 340.6,178.3 343.1,177.6 C345.6,176.8 348.2,175.9 350.7,175.3 C353.2,174.7 356.1,174.1 358.2,174.0 C360.3,173.9 361.7,174.9 363.2,175.0 C364.7,175.1 365.9,174.5 367.0,174.6 C368.1,174.7 367.0,175.3 370.0,175.3 C373.0,175.3 380.5,174.7 385.1,174.6 C389.7,174.5 394.1,174.6 397.7,174.8 C401.2,175.0 403.5,176.1 406.4,175.8 C409.3,175.6 412.0,174.1 415.2,173.3 C418.4,172.5 421.9,171.6 425.3,170.8 C428.7,170.1 431.5,169.5 435.3,168.8 C439.1,168.1 444.1,167.2 447.9,166.5 C451.7,165.8 455.6,164.8 457.9,164.3 C460.2,163.8 459.2,163.5 461.7,163.3 C464.2,163.1 469.0,163.1 473.0,163.0 C477.0,162.9 481.3,162.7 485.5,162.5 C489.7,162.3 494.6,162.0 498.1,161.8 C501.7,161.6 504.3,161.8 506.8,161.3 C509.3,160.8 510.9,159.7 513.1,159.0 C515.3,158.3 517.6,157.7 520.0,157.2 C522.4,156.7 524.6,156.3 527.5,156.0 C530.4,155.7 534.7,155.6 537.6,155.5 C540.5,155.4 542.6,155.2 545.1,155.2 C547.6,155.1 550.1,155.1 552.6,155.2 C555.1,155.3 557.9,155.5 560.2,156.0 C562.5,156.5 563.9,157.6 566.4,158.3 C568.9,159.0 572.1,159.6 575.2,160.3 C578.4,161.1 581.9,162.0 585.3,162.8 C588.6,163.6 592.6,164.6 595.3,165.3 C598.0,166.0 599.5,166.3 601.6,167.0 C603.7,167.7 605.8,168.6 607.9,169.5 C610.0,170.4 612.0,171.5 614.1,172.3 C616.2,173.1 618.3,173.6 620.4,174.1 C622.5,174.6 625.0,175.2 626.7,175.6 C628.4,176.0 629.8,176.2 630.4,176.3" stroke="#0000ff"/>
<path d="M19.5,351.4 C21.2,351.5 26.6,351.7 30.0,351.9 C33.4,352.1 36.2,352.4 40.0,352.5 C43.8,352.6 48.4,352.6 52.6,352.4 C56.8,352.2 61.0,351.6 65.2,351.2 C69.4,350.8 73.5,350.2 77.7,350.0 C81.9,349.8 86.1,350.1 90.3,350.0 C94.5,349.9 98.7,349.9 102.9,349.6 C107.1,349.4 111.2,348.8 115.4,348.5 C119.6,348.2 123.8,348.3 128.0,348.1 C132.2,347.9 136.3,347.5 140.5,347.5 C144.7,347.5 148.8,348.1 153.0,348.3 C157.2,348.5 161.4,348.5 165.6,348.5 C169.8,348.5 174.1,348.5 178.2,348.4 C182.3,348.3 186.3,348.3 190.4,347.8 C194.5,347.3 198.5,346.1 202.6,345.2 C206.7,344.3 210.5,343.5 215.1,342.7 C219.7,341.9 226.0,341.2 230.2,340.2 C234.4,339.2 236.4,337.9 240.2,336.9 C244.0,335.8 248.6,334.8 252.8,333.9 C257.0,333.0 260.7,332.3 265.3,331.4 C269.9,330.4 275.4,329.6 280.4,328.2 C285.4,326.8 290.8,324.7 295.4,323.1 C300.0,321.6 304.2,320.4 308.0,318.9 C311.8,317.3 314.6,315.2 318.0,313.8 C321.4,312.4 324.3,311.7 328.1,310.6 C331.9,309.5 337.3,308.0 340.6,307.1 C343.9,306.2 345.2,305.4 348.1,305.1 C351.0,304.8 355.3,305.1 358.2,305.1 C361.1,305.1 363.4,305.2 365.7,305.1 C368.0,305.0 370.0,304.7 372.0,304.6 C374.0,304.5 374.6,304.6 377.6,304.4 C380.6,304.2 386.4,303.7 390.1,303.4 C393.9,303.1 397.2,303.1 400.1,302.7 C403.0,302.3 405.2,301.2 407.7,300.9 C410.2,300.6 412.7,301.1 415.2,300.7 C417.7,300.2 419.8,299.1 422.7,298.2 C425.6,297.3 429.9,295.8 432.8,295.2 C435.7,294.6 437.4,294.9 440.3,294.4 C443.2,293.8 447.4,292.6 450.3,291.9 C453.2,291.2 455.8,290.5 457.9,290.4 C460.0,290.3 461.2,291.1 462.9,291.1 C464.6,291.1 465.4,291.2 467.9,290.4 C470.4,289.6 474.6,287.6 478.0,286.4 C481.4,285.2 484.7,284.3 488.0,283.1 C491.3,281.9 494.9,280.6 498.0,279.3 C501.1,278.1 503.9,276.6 506.8,275.6 C509.7,274.6 512.5,274.2 515.6,273.3 C518.7,272.4 523.2,270.9 525.6,270.1 C528.0,269.4 528.2,269.2 530.0,268.8 C531.8,268.4 534.4,267.7 536.3,267.8 C538.2,267.9 539.8,268.7 541.3,269.3 C542.8,269.9 543.6,270.8 545.1,271.3 C546.6,271.8 548.4,272.1 550.1,272.1 C551.9,272.1 553.6,271.4 555.6,271.2 C557.6,271.0 560.5,271.0 562.2,270.8 C563.9,270.6 564.5,270.0 566.0,269.9 C567.5,269.8 568.7,270.1 571.1,270.2 C573.5,270.3 576.6,270.3 580.2,270.3 C583.8,270.3 588.6,270.3 592.8,270.3 C597.0,270.3 602.2,270.7 605.3,270.5 C608.4,270.3 609.5,269.5 611.6,269.1 C613.7,268.7 615.6,268.3 617.9,268.2 C620.2,268.1 623.3,268.4 625.4,268.6 C627.5,268.8 629.6,269.2 630.4,269.3" stroke="#0000ff"/>
<path d="M19.5,314.8 C22.9,314.8 32.4,314.9 40.0,314.8 C47.6,314.7 57.7,314.2 65.2,314.0 C72.8,313.8 79.0,313.4 85.3,313.5 C91.6,313.6 95.8,314.5 102.9,314.8 C110.0,315.1 121.7,315.3 128.0,315.5 C134.3,315.7 136.5,315.8 140.5,315.8 C144.5,315.8 148.7,315.8 152.0,315.7 C155.3,315.6 158.2,315.5 160.4,315.2 C162.6,314.9 163.8,314.3 165.4,313.7 C167.1,313.1 168.2,312.3 170.3,311.6 C172.4,310.9 175.2,310.2 177.8,309.5 C180.4,308.8 184.0,307.9 186.0,307.3 C188.0,306.8 187.2,307.1 190.0,306.2 C192.8,305.3 198.4,303.4 202.6,301.8 C206.8,300.2 211.8,297.7 215.1,296.3 C218.4,294.9 219.5,294.7 222.7,293.3 C225.9,291.9 230.4,289.9 234.3,288.0 C238.2,286.1 242.4,283.8 246.0,281.7 C249.6,279.6 252.4,277.6 256.0,275.5 C259.6,273.4 263.8,271.1 267.3,269.2 C270.9,267.3 274.0,265.9 277.3,264.2 C280.6,262.5 284.0,261.1 287.3,259.2 C290.6,257.2 294.2,254.6 297.3,252.5 C300.4,250.4 303.2,248.2 305.7,246.7 C308.2,245.1 310.1,244.1 312.3,243.2 C314.5,242.3 316.4,242.3 319.0,241.5 C321.6,240.7 324.8,239.4 328.0,238.3 C331.2,237.2 334.9,235.8 338.0,234.7 C341.1,233.6 343.2,232.7 346.3,232.0 C349.4,231.3 352.7,230.7 356.3,230.5 C359.9,230.3 363.3,230.8 368.0,230.8 C372.7,230.8 379.7,230.6 384.7,230.5 C389.7,230.4 394.6,230.2 398.0,230.0 C401.4,229.8 401.9,230.3 405.3,229.6 C408.8,228.9 413.7,226.9 418.7,225.8 C423.7,224.8 429.8,224.4 435.3,223.3 C440.9,222.2 448.4,220.1 452.0,219.2 C455.6,218.3 454.0,218.6 457.0,218.0 C460.0,217.4 465.3,216.4 470.0,215.6 C474.7,214.8 480.0,213.8 485.0,213.0 C490.0,212.2 496.2,211.2 500.0,210.6 C503.8,210.0 505.7,209.8 508.0,209.5 C510.3,209.2 511.7,208.9 514.0,208.5 C516.3,208.1 519.7,207.6 522.0,207.0 C524.3,206.4 526.0,205.4 528.0,205.0 C530.0,204.6 532.3,204.4 534.0,204.3 C535.7,204.2 536.3,204.3 538.0,204.5 C539.7,204.7 542.0,205.3 544.0,205.5 C546.0,205.7 547.9,205.8 550.0,205.9 C552.1,206.0 553.9,206.2 556.7,206.2 C559.5,206.2 562.8,205.5 566.7,205.8 C570.6,206.1 575.6,207.2 580.0,208.0 C584.4,208.8 589.4,209.6 593.3,210.3 C597.2,211.0 600.0,211.4 603.3,212.0 C606.6,212.6 610.0,213.1 613.3,213.7 C616.6,214.2 620.5,214.9 623.3,215.3 C626.1,215.7 628.9,216.1 630.0,216.3" stroke="#222"/>
</g>
<g id="axis" fill="#333">
<rect x="18" y="413" width="706" height="1"/>
<rect x="41" y="413" width="1" height="10"/>
<rect x="107" y="413" width="1" height="10"/>
<rect x="163" y="413" width="1" height="10"/>
<rect x="221" y="413" width="1" height="10"/>
<rect x="285" y="413" width="1" height="10"/>
<rect x="352" y="413" width="1" height="10"/>
<rect x="407" y="413" width="1" height="10"/>
<rect x="462" y="413" width="1" height="10"/>
<rect x="529" y="413" width="1" height="10"/>
<rect x="590" y="413" width="1" height="10"/>
<rect x="650" y="413" width="1" height="10"/>
<rect x="716" y="413" width="1" height="10"/>
</g>
<g id="xlabels" class="lab" text-anchor="middle">
<text x="41.7" y="439.5">08-01</text>
<text x="107.7" y="439.5">09-01</text>
<text x="163.7" y="439.5">10-01</text>
<text x="221.7" y="439.5">11-01</text>
<text x="285.7" y="439.5">12-01</text>
<text x="352.7" y="439.5">01-01</text>
<text x="407.7" y="439.5">02-01</text>
<text x="462.7" y="439.5">03-01</text>
<text x="529.7" y="439.5">04-01</text>
<text x="590.7" y="439.5">05-01</text>
<text x="650.7" y="439.5">06-01</text>
<text x="723.5" y="439.5" text-anchor="end">07-01</text>
</g>
<g id="ylabels" class="lab" text-anchor="end">
<text x="723" y="98">2250</text>
<text x="723" y="143">2000</text>
<text x="723" y="187">1750</text>
<text x="723" y="232">1500</text>
<text x="723" y="277">1250</text>
<text x="723" y="322">1000</text>
<text x="723" y="366">750</text>
<text x="723" y="411">500</text>
</g>
<text class="ttl" y="33.1"><tspan x="206.6">语音技术概念</tspan><tspan x="327.8" textLength="86.4" lengthAdjust="spacingAndGlyphs">(859390)</tspan><tspan x="414.5">赢家极反通道</tspan></text>
</svg></body></html>
